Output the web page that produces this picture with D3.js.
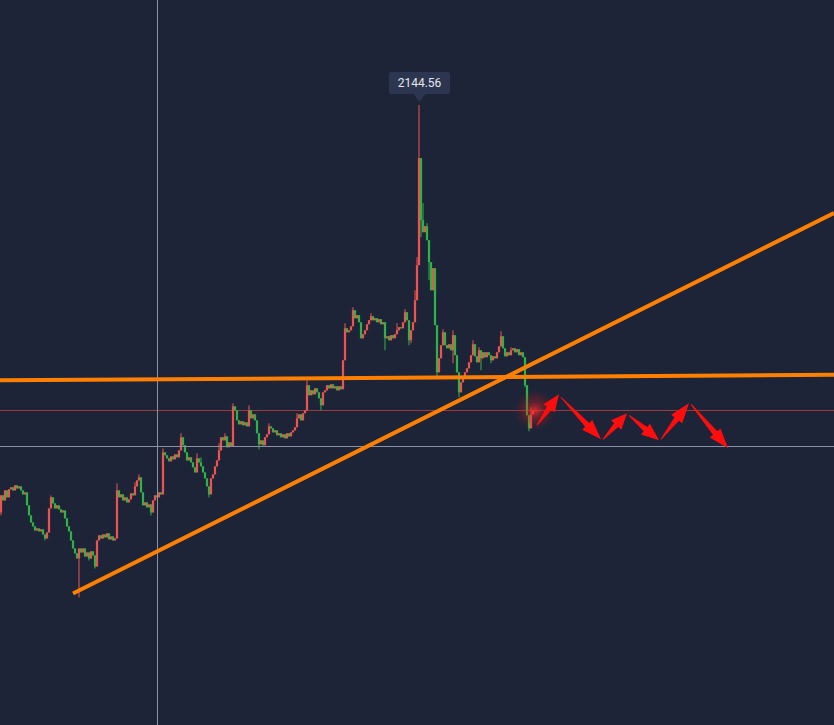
<!DOCTYPE html>
<html><head><meta charset="utf-8">
<script src="https://cdn.jsdelivr.net/npm/d3@7"></script>
<style>html,body{margin:0;padding:0;background:#1e2437;overflow:hidden}</style>
</head><body><svg id="c" width="834" height="725"></svg>
<script>
// ---- data ----
const firstOpen = 1839.3;
const closes = [
1852.1,1848.3,1855.8,1850.6,1856.6,1858.1,1855.8,1859.6,1857.3,1858.8,
1855.8,1852.8,1854.3,1844.6,1837.1,1831.8,1828.8,1825.8,1827.3,1825.1,
1826.6,1822.8,1819.8,1824.3,1842.3,1850.6,1846.1,1842.3,1844.6,1841.6,
1839.3,1840.8,1834.8,1828.8,1825.1,1818.3,1812.3,1808.6,1804.8,1812.3,
1809.3,1812.3,1806.3,1809.3,1804.8,1810.1,1807.1,1798.8,1818.3,1822.1,
1819.8,1822.8,1820.6,1823.6,1819.1,1821.3,1818.3,1819.8,1855.8,1850.6,
1852.8,1848.3,1850.6,1846.8,1849.1,1853.6,1852.1,1858.8,1863.3,1865.6,
1854.3,1844.6,1846.8,1843.1,1845.3,1839.3,1848.3,1852.1,1850.6,1854.3,
1852.8,1884.3,1882.1,1879.8,1877.6,1881.3,1879.1,1882.8,1880.6,1885.8,
1895.6,1889.6,1884.3,1878.3,1880.6,1876.8,1873.1,1869.3,1879.8,1876.8,
1873.8,1869.3,1864.8,1858.8,1852.8,1864.8,1867.8,1873.8,1878.3,1885.8,
1895.6,1893.3,1896.3,1888.1,1891.8,1888.8,1918.8,1915.8,1908.3,1905.3,
1907.6,1904.6,1906.8,1903.8,1915.8,1909.8,1912.8,1908.3,1898.6,1890.3,
1893.3,1889.6,1895.6,1897.8,1903.8,1902.3,1899.3,1900.8,1897.1,1898.6,
1895.6,1897.8,1894.8,1898.6,1896.3,1899.3,1900.8,1903.1,1909.8,1912.8,
1908.3,1913.6,1915.8,1934.6,1927.1,1930.8,1927.8,1932.3,1929.3,1924.8,
1919.6,1929.3,1930.8,1934.6,1932.3,1935.3,1932.3,1933.8,1930.8,1933.8,
1931.6,1953.3,1977.3,1974.3,1975.8,1978.8,1990.8,1984.8,1987.1,1981.8,
1969.8,1972.8,1975.8,1980.3,1983.3,1986.3,1983.3,1984.8,1981.8,1984.1,
1980.3,1981.8,1969.8,1971.3,1968.3,1972.1,1969.8,1972.8,1975.8,1978.1,
1977.3,1981.8,1989.3,1983.3,1968.3,1975.8,1981.8,1998.3,2024.6,2104.8,
2058.3,2049.3,2053.8,2043.3,2026.8,2005.8,2022.3,1979.6,1944.3,1954.8,
1964.6,1974.3,1964.6,1962.3,1965.3,1960.8,1972.1,1957.1,1944.3,1929.3,
1936.8,1939.8,1944.3,1947.3,1951.8,1957.1,1965.3,1956.3,1951.8,1960.8,
1954.8,1959.3,1955.6,1959.3,1957.1,1953.3,1956.3,1954.8,1959.3,1963.8,
1971.3,1962.3,1956.3,1959.3,1957.1,1960.8,1962.3,1959.3,1961.6,1957.1,
1959.3,1955.6,1934.6,1912.1,1902.3,1912.8,1915.8
];
const wickHighs = [[209,2144.56],[176,1993.1],[90,1898.6],[124,1919.6],[69,1867.8],[250,1975.1],[236,1968.3],
  [226,1975.8],[202,1991.6],[221,1976.5],[25,1852.0],[58,1861.1],[81,1887.3],[116,1921.1],[153,1938.3],
  [172,1981.1],[207,2005.8],[208,2030.6],[211,2071.1],[213,2056.1],[239,1963.1],[265,1918.1],[67,1861.8],
  [98,1883.6],[100,1880.6],[109,1891.1],[112,1898.6],[134,1906.1],[148,1913.6],[185,1988.6],[198,1981.1],[255,1963.1]];
const wickLows = [[39,1775.6],[47,1797.3],[104,1850.6],[129,1886.6],[160,1915.8],[192,1960.8],[204,1964.6],
  [229,1925.6],[264,1900.1],[75,1837.0],[218,1940.6],[0,1837.1],[22,1818.3],[44,1803.3],[210,2045.6],
  [214,2013.3],[226,1951.1],[240,1945.8],[262,1933.1],[205,1966.1],[245,1951.1]];
const peakIndex = 209;
const peakLabel = "2144.56";
const lastPriceLevel = 1915.8;
const crosshairIndex = 78;
const crosshairPrice = 1888.8;
const supportLine = [[-0.5,1938.3],[416.5,1942.4]];
const trendLine = [[36,1778.6],[416.5,2063.6]];
const projection = [
  [268,1904.6,279,1927.8],
  [280,1925.6,300,1894.1],
  [301,1894.1,313,1913.6],
  [314,1912.1,329,1893.3],
  [330,1894.1,344,1921.1],
  [345,1920.3,363.5,1887.3]
];

// ---- chart ----
const W = 834, H = 725;
const svg = d3.select("#c");
const x = d3.scaleLinear().domain([-0.5, 416.5]).range([0, W]);
const y = d3.scaleLinear().domain([1680, 2223.3]).range([H, 0]);
const UP = "#f0534e", DOWN = "#2db446";

const candles = closes.map((c, i) => {
  const o = i ? closes[i-1] : firstOpen;
  return {i, o, c, h: Math.max(o, c), l: Math.min(o, c)};
});
wickHighs.forEach(([i, v]) => { candles[i].h = Math.max(candles[i].h, v); });
wickLows.forEach(([i, v]) => { candles[i].l = Math.min(candles[i].l, v); });

svg.append("rect").attr("width", W).attr("height", H).attr("fill", "#1e2437");

const defs = svg.append("defs");
const rg = defs.append("radialGradient").attr("id", "glow");
rg.append("stop").attr("offset", "0%").attr("stop-color", "#ff2a2a").attr("stop-opacity", 0.8);
rg.append("stop").attr("offset", "40%").attr("stop-color", "#e02020").attr("stop-opacity", 0.35);
rg.append("stop").attr("offset", "100%").attr("stop-color", "#c01010").attr("stop-opacity", 0);

// last price line
svg.append("line").attr("x1", 0).attr("x2", W)
  .attr("y1", Math.round(y(lastPriceLevel)) + 0.5).attr("y2", Math.round(y(lastPriceLevel)) + 0.5)
  .attr("stroke", "#9a3b3d").attr("stroke-width", 1);

// candles
const g = svg.append("g");
g.selectAll("line.w").data(candles).join("line").attr("class", "w")
  .attr("x1", d => x(d.i)).attr("x2", d => x(d.i))
  .attr("y1", d => y(d.h)).attr("y2", d => y(d.l))
  .attr("stroke", d => d.c >= d.o ? UP : DOWN).attr("stroke-width", 1);
g.selectAll("rect.b").data(candles).join("rect").attr("class", "b")
  .attr("x", d => x(d.i) - 1.1).attr("width", 2.2)
  .attr("y", d => y(Math.max(d.o, d.c)))
  .attr("height", d => Math.max(1.2, Math.abs(y(d.o) - y(d.c))))
  .attr("fill", d => d.c >= d.o ? UP : DOWN);

// crosshair
svg.append("line").attr("x1", Math.round(x(crosshairIndex)) + 0.5).attr("x2", Math.round(x(crosshairIndex)) + 0.5)
  .attr("y1", 0).attr("y2", H).attr("stroke", "#8b91a3").attr("stroke-width", 1);
svg.append("line").attr("x1", 0).attr("x2", W)
  .attr("y1", Math.round(y(crosshairPrice)) + 0.5).attr("y2", Math.round(y(crosshairPrice)) + 0.5)
  .attr("stroke", "#8b91a3").attr("stroke-width", 1);

// orange lines
[supportLine, trendLine].forEach(L => {
  svg.append("line")
    .attr("x1", x(L[0][0])).attr("y1", y(L[0][1]))
    .attr("x2", x(L[1][0])).attr("y2", y(L[1][1]))
    .attr("stroke", "#ff8000").attr("stroke-width", 4);
});

// glow at last candle
const last = candles[candles.length - 1];
svg.append("circle").attr("cx", x(last.i + 1)).attr("cy", y(last.c)).attr("r", 20).attr("fill", "url(#glow)");

// projection arrows
function arrowPath(x1, y1, x2, y2) {
  const dx = x2 - x1, dy = y2 - y1, L = Math.hypot(dx, dy);
  const ux = dx / L, uy = dy / L, nx = -uy, ny = ux;
  const hl = Math.min(20, L * 0.45), hw = 7, sw = 2.8, tw = 0.5;
  const bx = x2 - ux * hl, by = y2 - uy * hl;
  const pts = [[x1 + nx*tw, y1 + ny*tw], [bx + nx*sw, by + ny*sw], [bx + nx*hw, by + ny*hw], [x2, y2],
               [bx - nx*hw, by - ny*hw], [bx - nx*sw, by - ny*sw], [x1 - nx*tw, y1 - ny*tw]];
  return d3.line()(pts) + "Z";
}
svg.append("g").selectAll("path").data(projection).join("path")
  .attr("d", d => arrowPath(x(d[0]), y(d[1]), x(d[2]), y(d[3])))
  .attr("fill", "#ff0d0d");

// peak tooltip
const px = Math.round(x(peakIndex)), py = y(candles[peakIndex].h);
const tip = svg.append("g");
const bw = 61, bh = 22, ah = 8;
tip.append("rect").attr("x", px + 0.5 - bw/2).attr("y", py - 3 - ah - bh).attr("width", bw).attr("height", bh)
  .attr("rx", 2).attr("fill", "#2c3650");
tip.append("path").attr("d", d3.line()([[px + 0.5 - 6, py - 3 - ah], [px + 0.5 + 6, py - 3 - ah], [px + 0.5, py - 3]]) + "Z")
  .attr("fill", "#2c3650");
tip.append("text").attr("x", px + 0.5).attr("y", py - 3 - ah - bh/2 + 4.3)
  .attr("text-anchor", "middle").attr("font-family", "Roboto, 'Liberation Sans', Arial, sans-serif")
  .attr("font-size", 12).attr("fill", "#e4e7ee").text(peakLabel);
</script>
</body></html>
